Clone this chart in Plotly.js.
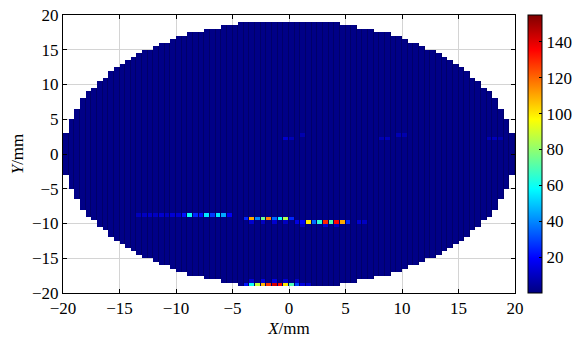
<!DOCTYPE html>
<html>
<head>
<meta charset="utf-8">
<script src="https://cdn.plot.ly/plotly-3.0.1.min.js"></script>
<style>html,body{margin:0;padding:0;background:#fff;}#chart{width:574px;height:340px;}</style>
</head>
<body>
<div id="chart"></div>
<script>
// Grid of the measurement (0.5 mm cells), aperture semi-axes in mm
var cellSize = 0.5;
var apertureX = 20;
var apertureY = 19.2;
var backgroundLevel = 1;

// Hot spots: x (mm), y (mm), value
var spotX = [
  -13.25,-12.75,-12.25,-11.75,-11.25,-10.75,-10.25,-9.75,-9.25,-8.75,-8.25,-7.75,-7.25,-6.75,-6.25,-5.75,-5.25,
  -3.75,-3.25,-2.75,-2.25,-1.75,-1.25,-0.75,-0.25,0.25,
  -3.25,-2.25,-1.25,-0.25,
  0.75,1.25,1.75,2.25,2.75,3.25,3.75,4.25,4.75,5.25,6.25,6.75,
  1.25,3.25,4.25,
  -3.75,-3.25,-2.75,-2.25,-1.75,-1.25,-0.75,-0.25,0.25,0.75,1.25,1.75,
  -3.25,-2.25,-1.25,-0.25,0.75,
  -0.25,0.25,1.25,8.25,8.75,9.75,10.25,17.75,18.25,18.75
];
var spotY = [
  -8.75,-8.75,-8.75,-8.75,-8.75,-8.75,-8.75,-8.75,-8.75,-8.75,-8.75,-8.75,-8.75,-8.75,-8.75,-8.75,-8.75,
  -9.25,-9.25,-9.25,-9.25,-9.25,-9.25,-9.25,-9.25,-9.25,
  -9.75,-9.75,-9.75,-9.75,
  -9.75,-9.75,-9.75,-9.75,-9.75,-9.75,-9.75,-9.75,-9.75,-9.75,-9.75,-9.75,
  -10.25,-10.25,-10.25,
  -18.75,-18.75,-18.75,-18.75,-18.75,-18.75,-18.75,-18.75,-18.75,-18.75,-18.75,-18.75,
  -18.25,-18.25,-18.25,-18.25,-18.25,
  2.25,2.25,2.75,2.25,2.25,2.75,2.75,2.25,2.25,2.25
];
var spotV = [
  9,10,11,10,12,10,13,12,22,60,25,22,55,28,55,45,18,
  25,110,40,75,115,35,60,85,25,
  12,10,12,10,
  15,20,100,35,65,130,70,135,110,25,12,10,
  10,12,10,
  22,60,88,108,128,142,135,100,70,30,14,12,
  12,14,14,12,10,
  12,8,7,8,9,8,7,8,9,7
];

// Colour bar ticks
var cbTickVals = [20,40,60,80,100,120,140];
var cbTickText = ['20','40','60','80','100','120','140'];
var axisTicks = [-20,-15,-10,-5,0,5,10,15,20];

// Build the cell grid
var xs = [], ys = [];
for (var c = -apertureX + cellSize/2; c < apertureX; c += cellSize) xs.push(+c.toFixed(2));
for (var r = -20 + cellSize/2; r < 20; r += cellSize) ys.push(+r.toFixed(2));
var inside = function(xc, yc){
  return (xc/apertureX)*(xc/apertureX) + (yc/apertureY)*(yc/apertureY) <= 1;
};
var z = ys.map(function(yc){
  return xs.map(function(xc){ return inside(xc, yc) ? backgroundLevel : null; });
});
var edges = ys.map(function(yc){
  return xs.map(function(xc){ return inside(xc, yc) ? 0 : null; });
});
for (var i = 0; i < spotX.length; i++) {
  var xi = xs.indexOf(spotX[i]);
  var yi = ys.indexOf(spotY[i]);
  if (xi >= 0 && yi >= 0) z[yi][xi] = spotV[i];
}

var jet = [[0,'rgb(0,0,128)'],[0.125,'rgb(0,0,255)'],[0.375,'rgb(0,255,255)'],
           [0.625,'rgb(255,255,0)'],[0.875,'rgb(255,0,0)'],[1,'rgb(128,0,0)']];

var font = {family:'Liberation Serif', size:17, color:'#000'};

// dark cell edges (faceted look)
var edgeTrace = {
  type:'heatmap', x:xs, y:ys, z:edges, zmin:0, zmax:1, showscale:false,
  colorscale:[[0,'rgb(0,0,105)'],[1,'rgb(0,0,105)']], hoverongaps:false
};

var trace = {
  type:'heatmap', x:xs, y:ys, z:z, zmin:0, zmax:155, colorscale:jet, xgap:1,
  hoverongaps:false,
  colorbar:{
    x:1.029, xanchor:'left', xref:'paper', y:0.5, yanchor:'middle', len:1.0, lenmode:'fraction',
    thickness:14, thicknessmode:'pixels', outlinecolor:'#000', outlinewidth:1,
    tickvals:cbTickVals, ticktext:cbTickText, ticks:'inside', ticklen:3, tickcolor:'#000',
    tickfont:font, xpad:0, ypad:0
  }
};

var axisBase = {
  range:[-20,20], tickvals:axisTicks, ticks:'inside', ticklen:4, tickcolor:'#000',
  showline:true, linecolor:'#000', linewidth:1, mirror:'ticks',
  showgrid:true, gridcolor:'#d4d4d4', gridwidth:1, zeroline:false, tickfont:font,
  fixedrange:true
};

var layout = {
  width:574, height:340,
  margin:{l:63, r:59, t:15, b:47, autoexpand:false},
  paper_bgcolor:'#fff', plot_bgcolor:'#fff',
  font:font,
  xaxis:Object.assign({}, axisBase, {title:{text:'<i>X</i>/mm', font:font, standoff:4}}),
  yaxis:Object.assign({}, axisBase, {title:{text:'<i>Y</i>/mm', font:font, standoff:4}})
};

Plotly.newPlot('chart', [edgeTrace, trace], layout, {staticPlot:true, displayModeBar:false});
</script>
</body>
</html>
